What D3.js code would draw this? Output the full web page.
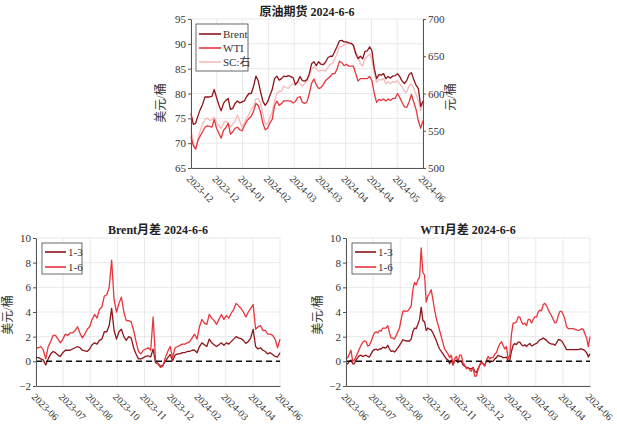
<!DOCTYPE html>
<html><head><meta charset="utf-8">
<script src="https://cdn.jsdelivr.net/npm/d3@7"></script>
<style>
body{margin:0;background:#fff}
svg{display:block}
text{font-family:"Liberation Serif","Noto Sans CJK SC",serif;}
</style>
</head><body>
<svg id="c" width="617" height="427"></svg>
<script>
// ---------- data ----------
const topTicks = ["2023-12","2023-12","2024-01","2024-02","2024-03","2024-03","2024-04","2024-04","2024-05","2024-06"];
const spreadTicks = ["2023-06","2023-07","2023-08","2023-10","2023-11","2023-12","2024-02","2024-03","2024-04","2024-06"];

// USD/bbl
const brent = [76,73.8,74,75.5,76.8,77.8,79.3,79.3,79.3,79.4,
80.8,79.2,77.7,76.5,78,78.6,79,76.8,77,78,
78.5,78.1,78.3,78.5,79.4,80,80,81.5,83.5,82.5,
80.3,78.4,77.6,78.3,79.6,80.8,83,83.5,82.7,83,
83.5,83.4,83.6,83.4,83.2,81.8,82.4,83.4,82.6,82.5,
82.8,84,86,86.4,85.6,86.4,85.9,85.8,86.3,87.2,
87.5,87.5,88.5,89.5,90.6,90.7,90.4,90.4,90.2,90.1,
89.7,88,87,87.5,87,88.5,88.6,89.4,88.6,85,
83,83.8,83.7,84,83,83.4,83.1,83.5,83.6,84,
83.4,82.5,82,82.6,83.8,84.2,82.8,81.7,81,77.4,
78.5];
const wti = [71.3,69.5,68.8,70.5,71.5,72.3,73.2,73.5,73.4,73.2,
74.8,73,72,71,72.6,73.1,74,71.8,72.3,73,
73.2,72.7,72.5,73.5,74.4,75,75.4,76.5,78,77.6,
76.2,74,72.7,73,74.1,74.8,77.5,78.5,77.6,78,
78.5,78.5,78.5,78.5,78.1,78.4,79.2,79.4,78.2,78,
78.3,80,82.1,82.9,81.8,81,81.2,81.8,82.6,83,
83.4,84,84,85,86.5,86.2,85.6,85.9,85.5,85.5,
85.5,84,82.5,83,83,83,83,83.4,82.6,80,
78.2,78.8,78.6,78.9,78.5,78.9,78.6,79,79,80,
79.2,78.2,77.3,77.2,78.3,79.8,78.3,76.8,74.5,73,
74.5];
// CNY/bbl (right axis)
const sc = [553,533,525,540,550,559,565,567,564,565,
568,561,557,553,560,563,560,555,559,563,
571,563,555,560,567,572,579,583,593,593,
587,572,559,560,568,575,590,600,603,603,
610,608,607,611,613,611,616,613,610,613,
617,623,633,636,633,630,631,631,630,635,
639,640,647,653,663,663,665,667,667,667,
665,657,650,640,637,647,650,653,645,627,
615,619,618,620,613,616,613,616,615,617,
613,609,603,602,610,613,607,599,590,577,
587];

// Brent spreads
const brent13 = [0.3,0.3,0.2,0.1,-0.3,0.2,0.6,0.8,0.7,0.5,
0.4,0.7,0.9,0.9,0.9,1.0,1.1,1.2,1.1,0.9,
0.85,0.8,1.0,1.35,1.5,1.4,1.7,1.8,2.4,2.4,
2.9,4.3,2.5,1.8,2.4,2.6,2.0,1.7,2.0,1.9,
1.1,0.6,0.2,0.2,0.3,0.4,0.45,0.35,1.0,-0.1,
-0.2,-0.4,-0.3,0.0,0.3,0.55,0.05,0.5,0.6,0.6,
0.7,0.7,0.8,0.8,0.9,0.9,0.7,1.2,1.5,1.35,
1.2,1.8,1.5,1.35,1.2,1.35,1.5,1.3,1.5,1.4,
1.6,1.8,2.0,1.9,1.85,1.7,1.45,1.6,1.9,2.6,
1.2,1.0,1.1,0.9,0.8,0.6,0.7,0.55,0.4,0.35,
0.7];
const brent16 = [1.1,1.1,1.2,0.9,0.2,1.2,1.6,2.1,2.1,1.8,
1.5,1.8,2.2,2.1,2.3,2.3,2.5,2.8,2.3,1.9,
2.2,2.6,2.8,3.4,3.8,3.5,4.2,4.4,5.3,5.4,
6.0,8.2,5.0,4.0,4.7,5.2,4.0,3.3,3.3,3.2,
2.5,1.6,0.8,0.6,0.9,1.0,1.1,0.9,3.6,0.1,
-0.2,-0.5,-0.4,0.3,0.8,1.2,0.3,1.1,1.2,1.3,
1.4,1.4,1.5,1.6,1.9,2.2,1.8,2.8,3.4,3.1,
3.0,3.8,3.5,3.3,3.0,3.4,3.8,3.4,3.7,3.5,
3.9,4.2,4.7,4.5,4.3,4.0,3.6,4.0,4.3,4.6,
2.6,2.8,2.9,2.5,2.5,2.2,2.2,2.1,1.8,1.1,
1.8];

// WTI spreads
const wti13 = [-0.2,-0.2,0.0,0.1,-0.2,-0.2,0.1,0.3,0.45,0.5,
0.4,0.45,0.5,0.4,0.35,0.6,0.85,0.95,1.0,0.9,
1.0,1.0,1.15,1.1,1.1,1.3,1.0,0.8,0.85,0.75,
0.9,1.1,1.3,1.5,1.75,1.7,1.65,1.65,1.65,1.8,
2.4,2.7,2.65,3.0,3.4,4.4,3.3,3.2,2.5,2.7,
2.6,2.55,2.3,2.0,1.7,1.3,1.0,0.8,0.6,0.4,
0.2,0.1,-0.2,0.1,-0.3,0.0,0.1,-0.1,0.0,0.0,
-0.3,-0.4,-0.5,-0.5,-0.6,-0.6,-0.5,-0.8,-0.9,-0.6,
-0.3,-0.1,-0.2,-0.3,0.0,0.1,-0.1,0.0,0.0,0.2,
0.3,0.5,0.4,0.4,0.3,0.3,0.35,0.05,0.1,0.8,
1.3,1.45,1.35,1.55,1.55,1.35,1.25,1.35,1.2,1.35,
1.45,1.25,1.3,1.4,1.45,1.6,1.75,1.8,1.9,1.8,
1.7,1.55,1.45,1.4,1.4,1.3,1.5,1.75,1.75,1.65,
1.45,1.2,0.95,0.95,0.95,0.95,0.95,0.95,0.95,0.95,
1.0,1.0,0.95,0.85,0.7,0.35,0.6];
const wti16 = [0.2,0.3,0.6,0.9,0.0,0.1,0.4,0.7,1.0,1.3,
1.55,1.65,1.6,1.25,1.3,1.6,2.0,2.3,2.4,2.3,
2.5,2.45,2.7,2.7,2.7,2.9,2.3,1.9,1.9,1.8,
2.1,2.4,2.7,3.4,4.05,4.1,4.05,4.1,4.25,4.5,
5.8,6.4,6.2,6.6,6.8,9.2,7.2,7.0,4.8,5.3,
5.5,5.8,5.0,4.2,3.5,3.0,2.5,2.0,1.5,1.0,
0.8,0.6,0.3,0.5,-0.2,0.2,0.4,0.0,0.5,0.5,
-0.1,-0.3,-0.6,-0.5,-0.7,-0.8,-0.5,-1.2,-1.2,-0.7,
-0.3,0.0,-0.2,-0.4,0.1,0.4,0.2,0.3,0.3,0.6,
0.7,1.1,1.4,1.6,1.3,1.0,1.2,0.2,0.5,2.2,
3.1,3.1,3.2,3.6,3.6,3.2,3.0,3.1,2.9,3.4,
3.4,3.1,3.4,3.6,3.6,4.0,4.15,4.1,4.6,4.7,
4.5,4.2,3.9,3.7,3.4,3.1,3.2,3.7,4.05,4.05,
3.8,3.4,2.8,2.65,2.65,2.65,2.65,2.6,2.55,2.5,
2.55,2.65,2.6,2.2,1.9,1.2,2.0];

const leftTicksTop = [65,70,75,80,85,90,95];
const rightTicksTop = [500,550,600,650,700];
const spreadYTicks = [-2,0,2,4,6,8,10];

// ---------- drawing ----------
const svg = d3.select("#c");
const GRID = "#e3e3e3", AX = "#555", TXT = "#333";
const C_DARK = "#8e1519", C_RED = "#e8353c", C_PINK = "#f5b9b9";

function panel(cfg){
  const g = svg.append("g");
  const n = cfg.n;
  const x = d3.scaleLinear().domain([0, n-1]).range([cfg.x0, cfg.x1]);
  const y = d3.scaleLinear().domain(cfg.yDomain).range([cfg.y1, cfg.y0]);
  const tickPos = cfg.xLabels.map((d,i)=> i*(n-1)/(cfg.xLabels.length-1));

  // grid
  g.append("g").selectAll("line").data(tickPos).join("line")
    .attr("x1",d=>x(d)).attr("x2",d=>x(d)).attr("y1",cfg.y0).attr("y2",cfg.y1)
    .attr("stroke",GRID).attr("stroke-width",0.8);
  g.append("g").selectAll("line").data(cfg.yTicks).join("line")
    .attr("x1",cfg.x0).attr("x2",cfg.x1).attr("y1",d=>y(d)).attr("y2",d=>y(d))
    .attr("stroke",GRID).attr("stroke-width",0.8);

  // series
  cfg.series.forEach(s=>{
    const ys = s.scale === "right" ? cfg.yRight : y;
    g.append("path").datum(s.data)
      .attr("fill","none").attr("stroke",s.color).attr("stroke-width",1.3)
      .attr("stroke-linejoin","round")
      .attr("d", d3.line().x((d,i)=>x(i)).y(d=>ys(d)));
  });

  if (cfg.zeroLine){
    g.append("line").attr("x1",cfg.x0).attr("x2",cfg.x1)
      .attr("y1",y(0)).attr("y2",y(0))
      .attr("stroke","#111").attr("stroke-width",1.5).attr("stroke-dasharray","6,4");
  }

  // left axis
  const la = g.append("g").attr("transform",`translate(${cfg.x0},0)`)
    .call(d3.axisLeft(y).tickValues(cfg.yTicks).tickSize(3).tickSizeOuter(0).tickPadding(2));
  // right axis
  if (cfg.yRight){
    const ra = g.append("g").attr("transform",`translate(${cfg.x1},0)`)
      .call(d3.axisRight(cfg.yRight).tickValues(cfg.rightTicks).tickSize(3).tickSizeOuter(0).tickPadding(2));
    styleAxis(ra, 11);
  }
  // bottom axis
  const ba = g.append("g").attr("transform",`translate(0,${cfg.y1})`)
    .call(d3.axisBottom(x).tickValues(tickPos).tickFormat((d,i)=>cfg.xLabels[i]).tickSize(0).tickSizeOuter(0));
  styleAxis(la, 11);
  styleAxis(ba, 10);
  ba.selectAll("text")
    .attr("x",0).attr("y",0).attr("dy","0.35em")
    .attr("text-anchor","start")
    .attr("transform","translate(-3,9) rotate(45)");

  // title
  g.append("text").attr("x",(cfg.x0+cfg.x1)/2).attr("y",cfg.titleY)
    .attr("text-anchor","middle").attr("font-size",12).attr("font-weight","bold")
    .attr("fill","#222").text(cfg.title);
  // y labels
  g.append("text").attr("transform",`translate(${cfg.ylabX},${cfg.ylabY}) rotate(-90)`)
    .attr("text-anchor","middle").attr("font-size",12).attr("fill",TXT).text(cfg.ylabel);
  if (cfg.ylabelR){
    g.append("text").attr("transform",`translate(${cfg.ylabRX},${cfg.ylabRY}) rotate(-90)`)
      .attr("text-anchor","middle").attr("font-size",12).attr("fill",TXT).text(cfg.ylabelR);
  }

  // legend
  const L = cfg.legend;
  const lg = g.append("g");
  lg.append("rect").attr("x",L.x).attr("y",L.y).attr("width",L.w).attr("height",L.h)
    .attr("fill","#fff").attr("stroke","#444").attr("stroke-width",0.8);
  L.items.forEach((it,i)=>{
    const yy = L.y + L.first + i*L.step;
    lg.append("line").attr("x1",L.x+3).attr("x2",L.x+3+L.len).attr("y1",yy).attr("y2",yy)
      .attr("stroke",it.color).attr("stroke-width",1.6);
    lg.append("text").attr("x",L.x+5+L.len).attr("y",yy).attr("dy","0.35em")
      .attr("font-size",11).attr("fill",TXT).text(it.label);
  });
}

function styleAxis(a, fs){
  a.select(".domain").attr("stroke",AX).attr("stroke-width",1);
  a.selectAll(".tick line").attr("stroke",AX);
  a.selectAll("text").attr("font-size",fs).attr("fill",TXT)
    .style("font-family",'"Liberation Serif",serif');
}

// top panel
panel({
  n: brent.length, x0:191, x1:423, y0:19, y1:168,
  yDomain:[65,95], yTicks:leftTicksTop,
  yRight: d3.scaleLinear().domain([500,700]).range([168,19]), rightTicks:rightTicksTop,
  xLabels: topTicks,
  series:[{data:sc,color:C_PINK,scale:"right"},{data:wti,color:C_RED},{data:brent,color:C_DARK}],
  title:"原油期货 2024-6-6", titleY:16,
  ylabel:"美元/桶", ylabX:165, ylabY:103,
  ylabelR:"元/桶", ylabRX:455, ylabRY:97,
  legend:{x:196,y:24,w:52,h:47,first:10,step:14,len:22,
    items:[{label:"Brent",color:C_DARK},{label:"WTI",color:C_RED},{label:"SC:右",color:C_PINK}]}
});

// Brent spreads
panel({
  n: brent13.length, x0:36, x1:280, y0:238, y1:386,
  yDomain:[-2,10], yTicks:spreadYTicks, xLabels: spreadTicks,
  series:[{data:brent13,color:C_DARK},{data:brent16,color:C_RED}],
  zeroLine:true,
  title:"Brent月差 2024-6-6", titleY:234,
  ylabel:"美元/桶", ylabX:12, ylabY:315,
  legend:{x:42,y:243,w:40,h:31,first:9,step:15,len:21,
    items:[{label:"1-3",color:C_DARK},{label:"1-6",color:C_RED}]}
});

// WTI spreads
panel({
  n: wti13.length, x0:346, x1:590, y0:238, y1:386,
  yDomain:[-2,10], yTicks:spreadYTicks, xLabels: spreadTicks,
  series:[{data:wti13,color:C_DARK},{data:wti16,color:C_RED}],
  zeroLine:true,
  title:"WTI月差 2024-6-6", titleY:234,
  ylabel:"美元/桶", ylabX:322, ylabY:315,
  legend:{x:352,y:243,w:39,h:31,first:9,step:15,len:21,
    items:[{label:"1-3",color:C_DARK},{label:"1-6",color:C_RED}]}
});
</script>
</body></html>
